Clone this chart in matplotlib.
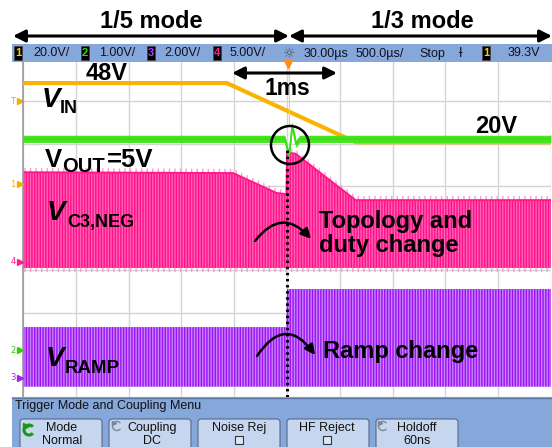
import matplotlib
matplotlib.use('Agg')
import matplotlib.pyplot as plt
import matplotlib.transforms as mtransforms
from matplotlib.patches import Rectangle, FancyBboxPatch, Circle, FancyArrowPatch, Arc
import numpy as np

plt.rcParams['hatch.linewidth'] = 1.0

# ---------------- data ----------------
# time in ms, 500 us/div, 10 divisions, topology change at t = 0
t_min, t_max = -2.5, 2.5
# channel (volts/div, ground position in divisions)
vin_scale, vin_gnd = 20.0, 1.03
vout_scale, vout_gnd = 1.0, -2.89
c3_scale, c3_gnd = 5.0, -0.8
ramp_scale, ramp_gnd = 2.0, -3.55
trig_level = 39.3

# CH1  V_IN
t_vin = [-2.5, -0.57, 0.65, 2.5]
v_vin = [48, 48, 20, 20]
# CH2  V_OUT (centre line) and its noise half-band
t_vout = [-2.5, -0.02, 0.02, 0.05, 0.085, 0.12, 2.5]
v_vout = [5.0, 5.0, 4.60, 5.32, 4.88, 5.0, 5.0]
vout_band = 0.085
# CH4  V_C3,NEG switching envelope
t_c3 = [-2.5, -0.51, -0.10, -0.005, 0.0, 0.08, 0.65, 2.5]
v_c3_top = [10.6, 10.5, 8.15, 8.0, 12.9, 12.8, 7.3, 7.3]
v_c3_bot = -0.73
# CH3  V_RAMP envelope
t_ramp = [-2.5, -0.01, 0.0, 2.5]
v_ramp_top = [2.41, 2.41, 4.21, 4.21]
v_ramp_bot = -0.41

status_items = ["20.0V/", "1.00V/", "2.00V/", "5.00V/"]
status_right = ["30.00µs", "500.0µs/", "Stop"]
trig_text = "39.3V"
buttons = [("Mode", "Normal"), ("Coupling", "DC"), ("Noise Rej", ""),
           ("HF Reject", ""), ("Holdoff", "60ns")]

# colours
C_VIN = '#fab300'
C_VOUT = '#45e620'
C_C3_FACE, C_C3_LINE = '#ff62b3', '#ff1089'
C_RAMP_FACE, C_RAMP_LINE = '#c982fb', '#9a14f2'
C_BAR = '#86a7d9'


def dv(v, scale, gnd):
    return gnd + np.asarray(v, dtype=float) / scale


W, H = 552, 447
fig = plt.figure(figsize=(W / 100, H / 100), dpi=100, facecolor='white')

# ---------------- scope graticule ----------------
ax = fig.add_axes([23 / W, 50 / H, 528 / W, 338 / H], zorder=1)
ax.set_xlim(t_min, t_max)
ax.set_ylim(-4, 4)
ax.set_xticks(np.arange(-2.5, 2.51, 0.5))
ax.set_yticks(np.arange(-4, 4.1, 1))
ax.grid(True, color='#d4d4d4', lw=1.0)
ax.tick_params(length=0, labelbottom=False, labelleft=False)
for s in ['top', 'right', 'bottom']:
    ax.spines[s].set_visible(False)
ax.spines['left'].set_color('#9a9a9a')
ax.spines['left'].set_linewidth(1.2)
ax.set_axisbelow(True)

# V_RAMP
ax.fill_between(t_ramp, dv(v_ramp_bot, ramp_scale, ramp_gnd),
                dv(v_ramp_top, ramp_scale, ramp_gnd),
                facecolor=C_RAMP_FACE, edgecolor=C_RAMP_LINE, hatch='||||||',
                lw=0, zorder=2)
# V_C3,NEG
c3_top = dv(v_c3_top, c3_scale, c3_gnd)
c3_bot = dv(v_c3_bot, c3_scale, c3_gnd)
ax.fill_between(t_c3, c3_top, c3_top + 0.1, facecolor='none',
                edgecolor='#ff9ad0', hatch='|||', lw=0, zorder=2)
ax.fill_between(t_c3, c3_bot - 0.1, c3_bot, facecolor='none',
                edgecolor='#ff9ad0', hatch='|||', lw=0, zorder=2)
ax.fill_between(t_c3, c3_bot, c3_top, facecolor=C_C3_FACE,
                edgecolor=C_C3_LINE, hatch='||||||', lw=0, zorder=2)
ax.plot(t_c3, c3_top, color='#ff1a8c', lw=1.4, zorder=2)

# V_IN
ax.plot(t_vin, dv(v_vin, vin_scale, vin_gnd), color=C_VIN, lw=3.0,
        solid_joinstyle='round', zorder=3)
ax.plot([0.02, 0.02], dv([58.6, 28.8], vin_scale, vin_gnd), color='#ffc860',
        lw=0.8, zorder=3)
# V_OUT
vo = dv(v_vout, vout_scale, vout_gnd)
ax.fill_between(t_vout, vo - vout_band / vout_scale, vo + vout_band / vout_scale,
                color=C_VOUT, lw=0, zorder=4)
ax.plot(t_vout, vo, color='#3cdc18', lw=1.3, zorder=4)

# transition marker
ax.plot([0.0, 0.0], [-4, 1.9], color='black', lw=2.2, ls=(0, (0.8, 1.2)),
        zorder=5, clip_on=False)

# ground / trigger markers at the left
off = mtransforms.offset_copy(ax.transData, fig=fig, x=-3, y=0, units='dots')
offt = mtransforms.offset_copy(ax.transData, fig=fig, x=-10, y=0, units='dots')
for lab, col, g in [('1', '#f0b000', vin_gnd), ('4', '#ff1a90', c3_gnd),
                    ('2', '#33cc00', vout_gnd), ('3', '#a020f0', ramp_gnd)]:
    ax.plot([t_min], [g], marker='>', ms=4, color=col, transform=off,
            clip_on=False, zorder=6)
    ax.text(t_min, g, lab, transform=offt, fontsize=6, color=col,
            ha='center', va='center', clip_on=False)
ax.plot([t_min], [vin_gnd + trig_level / vin_scale], marker='>', ms=4,
        color='#f0b000', transform=off, clip_on=False)
ax.text(t_min, vin_gnd + trig_level / vin_scale, 'T', transform=offt,
        fontsize=6, color='#f0b000', ha='center', va='center')

# ---------------- overlay (chrome + annotations, pixel coordinates) ----------------
ov = fig.add_axes([0, 0, 1, 1], zorder=3)
ov.set_xlim(0, W)
ov.set_ylim(H, 0)
ov.axis('off')
ov.patch.set_alpha(0)

UI = ['Liberation Sans Narrow', 'Liberation Sans', 'DejaVu Sans']
BOLD = ['Liberation Sans', 'DejaVu Sans']

# status bar
ov.add_patch(Rectangle((12, 44), W - 12, 18, facecolor=C_BAR, edgecolor='none'))
box_cols = ['#f5d000', '#33dd00', '#b040ff', '#ff2090']
box_x = [14, 81, 147, 213]
txt_x = [51, 117, 182, 248]
for i in range(4):
    ov.add_patch(Rectangle((box_x[i], 46), 8, 14, facecolor='black',
                           edgecolor='#444444', lw=0.5))
    ov.text(box_x[i] + 4, 53.5, str(i + 1), color=box_cols[i], fontsize=8,
            family=UI, ha='center', va='center', fontweight='bold')
    ov.text(txt_x[i], 53.5, status_items[i], fontsize=9, family=UI,
            ha='center', va='center', color='#111122')
ov.text(289, 53.5, '☼', fontsize=10, family=['DejaVu Sans'], ha='center',
        va='center', color='#555555')
for x, s in zip([326, 380, 432], status_right):
    ov.text(x, 53.5, s, fontsize=9, family=UI, ha='center', va='center',
            color='#111122')
ov.text(461, 53.5, 'ƚ', fontsize=9, family=['DejaVu Sans'], ha='center',
        va='center', color='#111122')
ov.add_patch(Rectangle((482, 46), 8, 14, facecolor='black', edgecolor='#444444',
                       lw=0.5))
ov.text(486, 53.5, '1', color='#f5d000', fontsize=8, family=UI, ha='center',
        va='center', fontweight='bold')
ov.text(524, 53.5, trig_text, fontsize=9, family=UI, ha='center', va='center',
        color='#111122')
ov.plot([288], [64], marker='v', ms=6, color='#ff8c1a')

# bottom menu
ov.add_patch(Rectangle((12, 397), W - 12, 50, facecolor=C_BAR, edgecolor='none'))
ov.plot([12, W], [397.5, 397.5], color='#5d7aa8', lw=1)
ov.text(15, 409, 'Trigger Mode and Coupling Menu', fontsize=9, family=UI,
        va='baseline', ha='left', color='#111111')
bx = [20, 109, 198, 287, 376]
for i, (l1, l2) in enumerate(buttons):
    ov.add_patch(FancyBboxPatch((bx[i], 419), 82, 30,
                                boxstyle='round,pad=0,rounding_size=3',
                                facecolor='#c6d6ee', edgecolor='#56698a', lw=0.8))
cx = [62, 152, 239, 327, 417]
for i, (l1, l2) in enumerate(buttons):
    ov.text(cx[i], 431, l1, fontsize=9, family=UI, ha='center',
            va='baseline', color='#111111')
    if l2:
        ov.text(cx[i], 444, l2, fontsize=9, family=UI, ha='center',
                va='baseline', color='#111111')
    else:
        ov.add_patch(Rectangle((cx[i] - 4, 436), 8, 8, facecolor='#dde6f4',
                               edgecolor='#333333', lw=0.8))
# rotary icons
ov.add_patch(Arc((29, 430), 10, 10, theta1=40, theta2=320, color='#159a15', lw=2.2))
ov.plot([25.5], [426], marker='>', ms=4, color='#159a15')
for x in [117, 383]:
    ov.add_patch(Arc((x, 426), 9, 9, theta1=40, theta2=320, color='#7a869a', lw=1))
    ov.plot([x - 3], [422.5], marker='>', ms=3, color='#7a869a')

# ---------------- annotations ----------------
ov.text(151, 27.5, '1/5 mode', fontsize=17, fontweight='bold', family=BOLD,
        ha='center', va='baseline')
ov.text(422, 27.5, '1/3 mode', fontsize=17, fontweight='bold', family=BOLD,
        ha='center', va='baseline')
for (x0, x1, y) in [(13, 289, 36), (289, 552, 36), (232, 337, 73)]:
    ov.add_patch(FancyArrowPatch((x0, y), (x1, y), arrowstyle='<|-|>',
                                 mutation_scale=18, lw=2.2, color='black',
                                 shrinkA=0, shrinkB=0))
ov.text(86, 80, '48V', fontsize=17, fontweight='bold', family=BOLD,
        ha='left', va='baseline')
ov.text(265, 95, '1ms', fontsize=16.5, fontweight='bold', family=BOLD,
        ha='left', va='baseline')
ov.text(475, 133, '20V', fontsize=17, fontweight='bold', family=BOLD,
        ha='left', va='baseline')

# V_IN
ov.text(42, 107, 'V', fontsize=20, fontweight='bold', style='italic',
        family=BOLD, ha='left', va='baseline')
ov.text(60, 113, 'IN', fontsize=13, fontweight='bold', family=BOLD,
        ha='left', va='baseline')
# V_OUT=5V
ov.text(45, 167, 'V', fontsize=18.5, fontweight='bold', family=BOLD,
        ha='left', va='baseline')
ov.text(62, 172, 'OUT', fontsize=14.5, fontweight='bold', family=BOLD,
        ha='left', va='baseline')
ov.text(107, 167, '=5V', fontsize=18.5, fontweight='bold', family=BOLD,
        ha='left', va='baseline')
# V_C3,NEG
ov.text(47, 220, 'V', fontsize=20, fontweight='bold', style='italic',
        family=BOLD, ha='left', va='baseline')
ov.text(67, 227, 'C3,NEG', fontsize=13, fontweight='bold', family=BOLD,
        ha='left', va='baseline')
# V_RAMP
ov.text(46, 366, 'V', fontsize=20, fontweight='bold', style='italic',
        family=BOLD, ha='left', va='baseline')
ov.text(65, 373, 'RAMP', fontsize=13.5, fontweight='bold', family=BOLD,
        ha='left', va='baseline')

ov.text(319, 228, 'Topology and', fontsize=17, fontweight='bold', family=BOLD,
        ha='left', va='baseline')
ov.text(319, 252, 'duty change', fontsize=17, fontweight='bold', family=BOLD,
        ha='left', va='baseline')
ov.text(323, 358, 'Ramp change', fontsize=17, fontweight='bold', family=BOLD,
        ha='left', va='baseline')

ov.add_patch(FancyArrowPatch((255, 241), (311, 239), arrowstyle='-|>',
                             connectionstyle='arc3,rad=-0.6', mutation_scale=15,
                             lw=1.8, color='black', shrinkA=0, shrinkB=0))
ov.add_patch(FancyArrowPatch((257, 356), (315, 355), arrowstyle='-|>',
                             connectionstyle='arc3,rad=-0.72', mutation_scale=15,
                             lw=1.8, color='black', shrinkA=0, shrinkB=0))
ov.add_patch(Circle((290, 145), 19, facecolor='none', edgecolor='black', lw=1.8))

fig.savefig('out.png', dpi=100, facecolor='white')
